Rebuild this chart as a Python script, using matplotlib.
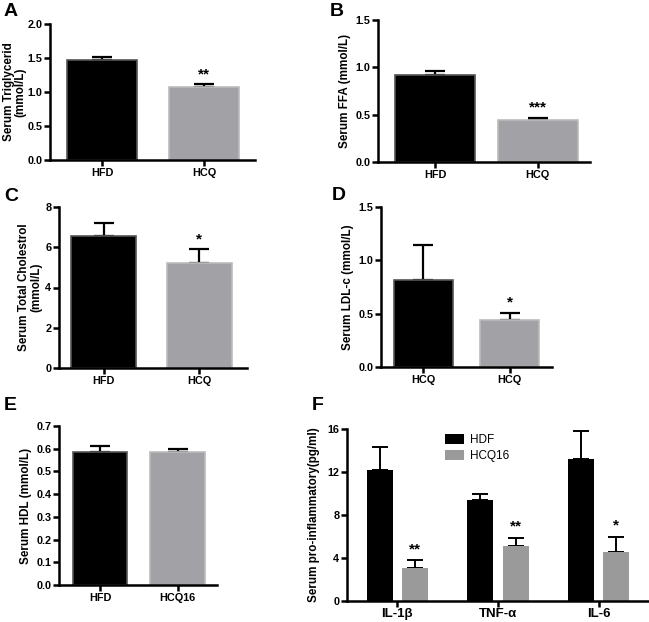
import matplotlib

matplotlib.use("Agg")
import matplotlib.pyplot as plt
import numpy as np

plt.rcParams["font.family"] = ["Liberation Sans", "DejaVu Sans"]
plt.rcParams["font.weight"] = "bold"

W, H = 649, 622

# panel data
groups_a = ["HFD", "HCQ"]
tg_mean = [1.47, 1.07]
tg_err = [0.04, 0.05]

groups_b = ["HFD", "HCQ"]
ffa_mean = [0.92, 0.44]
ffa_err = [0.04, 0.03]

groups_c = ["HFD", "HCQ"]
tc_mean = [6.55, 5.2]
tc_err = [0.65, 0.7]

groups_d = ["HCQ", "HCQ"]
ldl_mean = [0.82, 0.44]
ldl_err = [0.32, 0.07]

groups_e = ["HFD", "HCQ16"]
hdl_mean = [0.585, 0.585]
hdl_err = [0.025, 0.012]

cytokines = ["IL-1β", "TNF-α", "IL-6"]
hdf_mean = [12.2, 9.4, 13.2]
hdf_err = [2.1, 0.6, 2.6]
hcq_mean = [3.1, 5.1, 4.6]
hcq_err = [0.7, 0.8, 1.4]
cyto_stars = ["**", "**", "*"]

BLACK = "#000000"
GREY = "#a2a2a6"
GREY_F = "#9a9a9a"
LW = 1.8
TICK_FS = 7.8
LABEL_FS = 8.4


def px_axes(fig, left, top, right, bottom):
    return fig.add_axes([left / W, 1 - bottom / H, (right - left) / W, (bottom - top) / H])


def style(ax):
    for side in ("top", "right"):
        ax.spines[side].set_visible(False)
    for side in ("left", "bottom"):
        ax.spines[side].set_linewidth(LW)
    ax.tick_params(width=LW, length=4, labelsize=TICK_FS, pad=1.5)
    for lab in ax.get_yticklabels() + ax.get_xticklabels():
        lab.set_fontweight("bold")


def two_bar(fig, box, xlim, width, groups, mean, err, ylim, yticks, fmt, ylabel,
            star, letter, letter_xy, labelpad=3):
    ax = px_axes(fig, *box)
    x = np.arange(len(groups))
    ax.bar(x, mean, width=width, color=[BLACK, GREY], edgecolor=["#555555", "#bbbbbb"],
           linewidth=1.2, zorder=2)
    ax.errorbar(x, mean, yerr=[np.zeros(len(err)), err], fmt="none", ecolor="black",
                elinewidth=1.6, capsize=7, capthick=1.6, zorder=1)
    ax.set_xlim(*xlim)
    ax.set_ylim(*ylim)
    ax.set_yticks(yticks)
    ax.set_yticklabels([fmt.format(v) for v in yticks])
    ax.set_xticks(x)
    ax.set_xticklabels(groups)
    style(ax)
    ax.set_ylabel(ylabel, fontsize=LABEL_FS, fontweight="bold", labelpad=labelpad,
                  linespacing=1.0)
    ax.text(1, mean[1] + err[1] + (ylim[1] - ylim[0]) * 0.02, star, ha="center",
            va="bottom", fontsize=11, fontweight="bold")
    fig.text(letter_xy[0] / W, 1 - letter_xy[1] / H, letter, fontsize=14,
             fontweight="bold", ha="left", va="top")
    return ax


fig = plt.figure(figsize=(W / 100, H / 100), dpi=100)

two_bar(fig, (50, 24, 255, 160), (-0.51, 1.5), 0.68, groups_a, tg_mean, tg_err,
        (0, 2.0), [0, 0.5, 1.0, 1.5, 2.0], "{:.1f}", "Serum Triglycerid\n(mmol/L)",
        "**", "A", (4, 3), labelpad=0.5)

two_bar(fig, (378, 20, 590, 162), (-0.56, 1.51), 0.78, groups_b, ffa_mean, ffa_err,
        (0, 1.5), [0, 0.5, 1.0, 1.5], "{:.1f}", "Serum FFA (mmol/L)",
        "***", "B", (330, 3))

two_bar(fig, (59, 207, 247, 368), (-0.47, 1.5), 0.68, groups_c, tc_mean, tc_err,
        (0, 8), [0, 2, 4, 6, 8], "{:.0f}", "Serum Total Cholestrol\n(mmol/L)",
        "*", "C", (4, 188), labelpad=2)

two_bar(fig, (381, 207, 552, 367), (-0.49, 1.49), 0.69, groups_d, ldl_mean, ldl_err,
        (0, 1.5), [0, 0.5, 1.0, 1.5], "{:.1f}", "Serum LDL-c (mmol/L)",
        "*", "D", (332, 187))

two_bar(fig, (59, 426, 217, 585), (-0.53, 1.51), 0.7, groups_e, hdl_mean, hdl_err,
        (0, 0.7), [0, 0.1, 0.2, 0.3, 0.4, 0.5, 0.6, 0.7], "{:.1f}", "Serum HDL (mmol/L)",
        "", "E", (4, 397))

# panel F
ax = px_axes(fig, 347, 429, 649, 601)
x = np.arange(len(cytokines))
off, bw = 0.175, 0.26
ax.bar(x - off, hdf_mean, width=bw, color=BLACK, label="HDF", zorder=2)
ax.bar(x + off, hcq_mean, width=bw, color=GREY_F, label="HCQ16", zorder=2)
ax.errorbar(x - off, hdf_mean, yerr=[np.zeros(3), hdf_err], fmt="none", ecolor="black",
            elinewidth=1.4, capsize=6, capthick=1.4, zorder=1)
ax.errorbar(x + off, hcq_mean, yerr=[np.zeros(3), hcq_err], fmt="none", ecolor="black",
            elinewidth=1.4, capsize=6, capthick=1.4, zorder=1)
for xi, m, e, s in zip(x, hcq_mean, hcq_err, cyto_stars):
    ax.text(xi + off, m + e + 0.35, s, ha="center", va="bottom", fontsize=11,
            fontweight="bold")
ax.set_xlim(-0.5, 2.5)
ax.set_ylim(0, 16)
ax.set_yticks([0, 4, 8, 12, 16])
ax.set_xticks(x)
ax.set_xticklabels(cytokines)
style(ax)
ax.tick_params(axis="x", labelsize=9.5, pad=1)
ax.set_ylabel("Serum pro-inflammatory(pg/ml)", fontsize=LABEL_FS, fontweight="bold",
              labelpad=5)
leg = ax.legend(loc="upper left", bbox_to_anchor=(0.29, 1.03), frameon=False,
                prop={"size": 8.5, "weight": "normal"}, handlelength=1.6,
                handleheight=0.9, labelspacing=0.3, handletextpad=0.5)
fig.text(312 / W, 1 - 397 / H, "F", fontsize=14, fontweight="bold", ha="left", va="top")

fig.savefig("out.png", dpi=100)
